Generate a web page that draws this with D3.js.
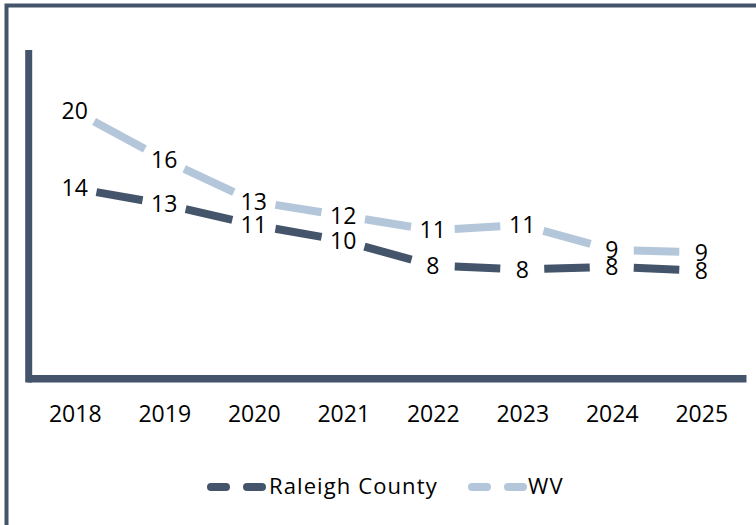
<!DOCTYPE html>
<html>
<head>
<meta charset="utf-8">
<script src="https://cdn.jsdelivr.net/npm/d3@7"></script>
<style>
  body { margin: 0; background: #fff; }
  text { font-family: "Open Sans", sans-serif; fill: #000; }
</style>
</head>
<body>
<svg width="756" height="525"></svg>
<script>
// data
var years = ['2018', '2019', '2020', '2021', '2022', '2023', '2024', '2025'];
var raleigh = [14.1, 12.9, 11.3, 10.1, 8.2, 7.9, 8.1, 7.8];
var wv = [20.0, 16.3, 13.1, 12.0, 10.9, 11.3, 9.4, 9.2];
var seriesNames = ['Raleigh County', 'WV'];
var seriesColors = ['#44546A', '#B4C7DA'];

var svg = d3.select('svg');
var dark = '#44546A';

// outer frame
svg.append('rect').attr('x', 6.5).attr('y', 5.5).attr('width', 800).attr('height', 600)
  .attr('fill', 'none').attr('stroke', dark).attr('stroke-width', 4);

var x = d3.scalePoint().domain(years).range([30, 746]).padding(0.5);
var y = d3.scaleLinear().domain([0, 25]).range([373, 45.5]);

// y axis line (no ticks)
svg.append('line').attr('x1', 28.7).attr('x2', 28.7).attr('y1', 50).attr('y2', 382.5)
  .attr('stroke', dark).attr('stroke-width', 7);

// x axis
var xa = svg.append('g').attr('transform', 'translate(0,378.7)')
  .call(d3.axisBottom(x).tickSize(0).tickSizeOuter(0));
xa.select('.domain').attr('stroke', dark).attr('stroke-width', 7.5).attr('d', 'M28,0H746.5');
xa.selectAll('.tick text').attr('y', 43).attr('dy', 0)
  .style('font-size', '23px').style('font-family', '"Open Sans", sans-serif').attr('fill', '#000');

// series lines as trimmed segments between points
var series = [raleigh, wv];
var trim = 22;
series.forEach(function (vals, si) {
  var segs = d3.pairs(vals.map(function (v, i) { return [x(years[i]), y(v)]; }));
  svg.append('g').selectAll('line').data(segs).join('line')
    .attr('x1', function (s) { var d = Math.hypot(s[1][0] - s[0][0], s[1][1] - s[0][1]); return s[0][0] + (s[1][0] - s[0][0]) * trim / d; })
    .attr('y1', function (s) { var d = Math.hypot(s[1][0] - s[0][0], s[1][1] - s[0][1]); return s[0][1] + (s[1][1] - s[0][1]) * trim / d; })
    .attr('x2', function (s) { var d = Math.hypot(s[1][0] - s[0][0], s[1][1] - s[0][1]); return s[1][0] - (s[1][0] - s[0][0]) * trim / d; })
    .attr('y2', function (s) { var d = Math.hypot(s[1][0] - s[0][0], s[1][1] - s[0][1]); return s[1][1] - (s[1][1] - s[0][1]) * trim / d; })
    .attr('stroke', seriesColors[si]).attr('stroke-width', 8);
});

// data labels centred on points
series.forEach(function (vals, si) {
  svg.append('g').selectAll('text').data(vals).join('text')
    .attr('x', function (v, i) { return x(years[i]); })
    .attr('y', function (v) { return y(v) + 8.2; })
    .attr('text-anchor', 'middle').style('font-size', '23px')
    .text(function (v) { return d3.format('.0f')(v); });
});

// legend
var legX = [211, 472];
var legTextX = [269, 528];
seriesNames.forEach(function (name, i) {
  svg.append('line').attr('x1', legX[i]).attr('x2', legX[i] + 51).attr('y1', 487).attr('y2', 487)
    .attr('stroke', seriesColors[i]).attr('stroke-width', 8)
    .attr('stroke-linecap', 'round').attr('stroke-dasharray', '15,21');
  svg.append('text').attr('x', legTextX[i]).attr('y', 494).style('font-size', '22px')
    .style('letter-spacing', '1.1px').text(name);
});
</script>
</body>
</html>
